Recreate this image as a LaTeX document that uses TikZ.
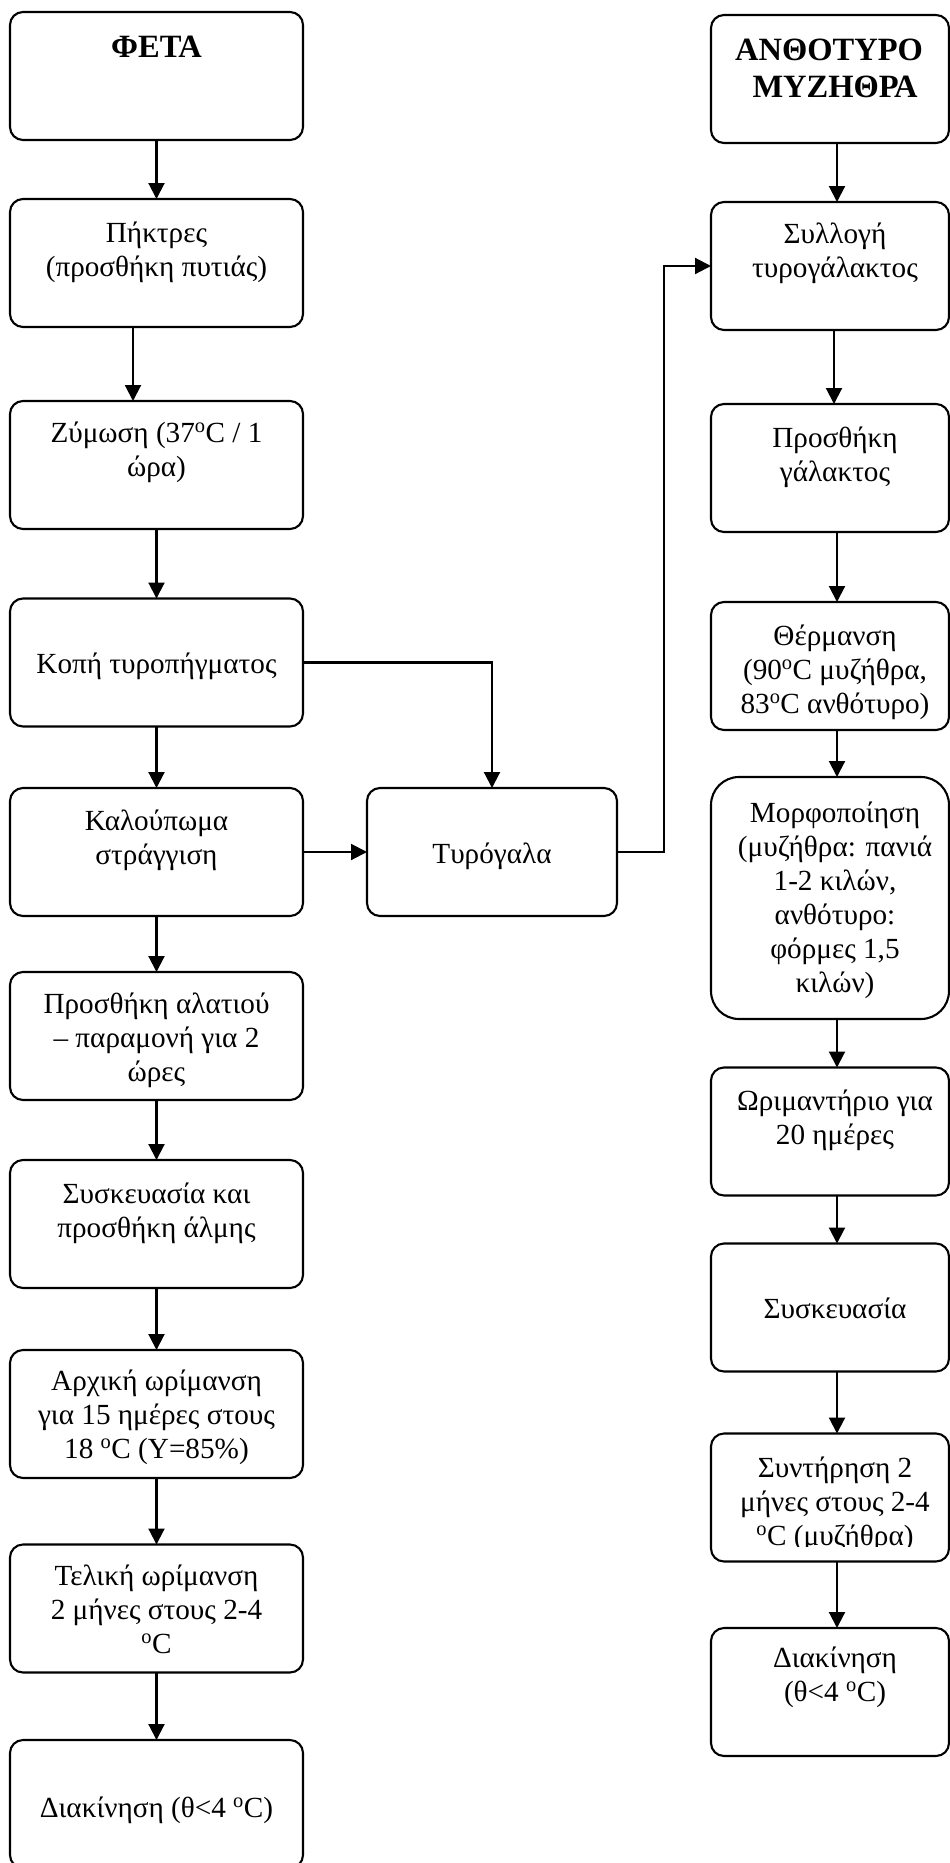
\documentclass[tikz,border=0pt]{standalone}
\usepackage{fontspec}
\setmainfont{Liberation Serif}
\usetikzlibrary{arrows.meta,calc}
\newcommand{\degC}{\textsuperscript{o}C}
\begin{document}
% Text nodes are anchored at the baseline of their last line.
\begin{tikzpicture}[x=1pt,y=-1pt,
  procbox/.style={draw, line width=2.1pt, rounded corners=13pt, inner sep=0pt, outer sep=0pt},
  lbox/.style={procbox, minimum width=293pt, minimum height=128pt},
  rbox/.style={procbox, minimum width=238pt, minimum height=128pt},
  mbox/.style={procbox, minimum width=250pt, minimum height=128pt},
  txt/.style={anchor=base, align=center, inner sep=0pt, font=\fontsize{29.2}{34}\selectfont},
  ttl/.style={txt, font=\fontsize{32.5}{37}\selectfont\bfseries},
  arr/.style={line width=2.1pt, -{Triangle[length=16pt,width=16pt]}}
]
\useasboundingbox (0,0) rectangle (950,1863);

% ---- feta column ----
\node[lbox] (l1)  at (156.5,76)   {};
\node[lbox] (l2)  at (156.5,263)  {};
\node[lbox] (l3)  at (156.5,465)  {};
\node[lbox] (l4)  at (156.5,662.5){};
\node[lbox] (l5)  at (156.5,852)  {};
\node[lbox] (l6)  at (156.5,1036) {};
\node[lbox] (l7)  at (156.5,1224) {};
\node[lbox] (l8)  at (156.5,1414) {};
\node[lbox] (l9)  at (156.5,1608.5){};
\node[lbox] (l10) at (156.5,1804) {};

\node[ttl] (t1)  at (156.5,57)   {ΦΕΤΑ};
\node[txt] (t2)  at (156.5,276)  {Πήκτρες\\(προσθήκη πυτιάς)};
\node[txt] (t3)  at (156.5,476)  {Ζύμωση (37\degC{} / 1\\ώρα)};
\node[txt] (t4)  at (156.5,673)  {Κοπή τυροπήγματος};
\node[txt] (t5)  at (156.5,864)  {Καλούπωμα\\στράγγιση};
\node[txt] (t6)  at (156.5,1081) {Προσθήκη αλατιού\\– παραμονή για 2\\ώρες};
\node[txt] (t7)  at (156.5,1237) {Συσκευασία και\\προσθήκη άλμης};
\node[txt] (t8)  at (156.5,1458) {Αρχική ωρίμανση\\για 15 ημέρες στους\\18 \degC{} (Υ=85\%)};
\node[txt] (t9)  at (156.5,1653) {Τελική ωρίμανση\\2 μήνες στους 2-4\\\degC};
\node[txt] (t10) at (156.5,1817) {Διακίνηση (θ<4 \degC)};

% ---- whey box ----
\node[mbox] (m) at (492,852) {};
\node[txt] (tm) at (492,863) {Τυρόγαλα};

% ---- anthotyro / myzithra column ----
\node[rbox] (r1) at (830,79)    {};
\node[rbox] (r2) at (830,266)   {};
\node[rbox] (r3) at (830,468)   {};
\node[rbox] (r4) at (830,666)   {};
\node[procbox, minimum width=238pt, minimum height=242pt, rounded corners=28pt] (r5) at (830,898) {};
\node[rbox] (r6) at (830,1131.5){};
\node[rbox] (r7) at (830,1307.5){};
\node[rbox] (r8) at (830,1497.5){};
\node[rbox] (r9) at (830,1692)  {};

\node[ttl] (s1) at (829,97)   {ΑΝΘΟΤΥΡΟ\\\hspace*{12pt}ΜΥΖΗΘΡΑ};
\node[txt] (s2) at (835,277)  {Συλλογή\\τυρογάλακτος};
\node[txt] (s3) at (835,481)  {Προσθήκη\\γάλακτος};
\node[txt] (s4) at (835,713)  {Θέρμανση\\(90\degC{} μυζήθρα,\\83\degC{} ανθότυρο)};
\node[txt] (s5) at (835,992)  {Μορφοποίηση\\(μυζήθρα: πανιά\\1-2 κιλών,\\ανθότυρο:\\φόρμες 1,5\\κιλών)};
\node[txt] (s6) at (835,1144) {Ωριμαντήριο για\\20 ημέρες};
\node[txt] (s7) at (835,1318) {Συσκευασία};
\begin{scope}
  \clip ($(r8.north west)$) rectangle ($(r8.south east)+(0,-15)$);
  \node[txt] (s8) at (835,1545) {Συντήρηση 2\\μήνες στους 2-4\\\degC{} (μυζήθρα)};
\end{scope}
\node[txt] (s9) at (835,1701) {Διακίνηση\\(θ<4 \degC)};

% ---- connectors ----
\coordinate (lx2) at (133,0);
\coordinate (rx)  at (837,0);
\coordinate (rx2) at (834,0);
\coordinate (jx)  at (664,0);

\draw[arr] (l1.south) -- (l2.north);
\draw[arr] (l2.south -| lx2) -- (l3.north -| lx2);
\draw[arr] (l3.south) -- (l4.north);
\draw[arr] (l4.south) -- (l5.north);
\draw[arr] (l5.south) -- (l6.north);
\draw[arr] (l6.south) -- (l7.north);
\draw[arr] (l7.south) -- (l8.north);
\draw[arr] (l8.south) -- (l9.north);
\draw[arr] (l9.south) -- (l10.north);

\draw[arr] (l4.east) -| (m.north);
\draw[arr] (l5.east) -- (m.west);
\draw[arr] (m.east) -- (m.east -| jx) -- (r2.west -| jx) -- (r2.west);

\draw[arr] (r1.south -| rx)  -- (r2.north -| rx);
\draw[arr] (r2.south -| rx2) -- (r3.north -| rx2);
\draw[arr] (r3.south -| rx)  -- (r4.north -| rx);
\draw[arr] (r4.south -| rx)  -- (r5.north -| rx);
\draw[arr] (r5.south -| rx)  -- (r6.north -| rx);
\draw[arr] (r6.south -| rx)  -- (r7.north -| rx);
\draw[arr] (r7.south -| rx)  -- (r8.north -| rx);
\draw[arr] (r8.south -| rx)  -- (r9.north -| rx);
\end{tikzpicture}
\end{document}
